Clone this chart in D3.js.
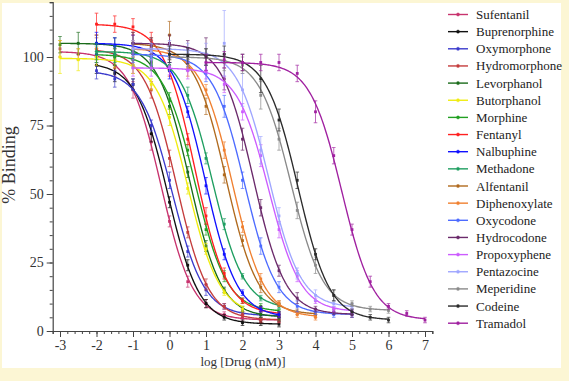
<!DOCTYPE html>
<html><head><meta charset="utf-8">
<script src="https://cdn.jsdelivr.net/npm/d3@7"></script>
<style>html,body{margin:0;padding:0;background:#fcf6d4;}svg{display:block;}</style>
</head><body>
<svg id="chart" width="569" height="381"></svg>
<script>
// ---- data ----
const drugs = ["Sufentanil","Buprenorphine","Oxymorphone","Hydromorphone","Levorphanol","Butorphanol","Morphine","Fentanyl","Nalbuphine","Methadone","Alfentanil","Diphenoxylate","Oxycodone","Hydrocodone","Propoxyphene","Pentazocine","Meperidine","Codeine","Tramadol"];
const colors = ["#c8336e","#111111","#3a3acc","#c43c3c","#1a6b1a","#f0ec10","#22a022","#ff2020","#1010ff","#1e9e60","#b06a1e","#f08030","#4d6bff","#6b2a6b","#cc5cff","#9fa6ff","#8a8a8a","#2b2b2b","#a020a0"];
// fitted curve parameters
const tops    = [102, 98, 95, 103, 105, 99.5, 101, 112, 105, 102, 105, 103, 101, 105, 96, 103, 100, 101, 98];
const bottoms = [4, 2.5, 5.5, 4, 5, 6, 7, 6, 5, 8, 6, 5, 6, 6, 7, 8.5, 7.5, 4, 4];
const logIC50 = [-0.23, -0.05, 0.08, 0.19, 0.55, 0.5, 0.7, 0.7, 0.98, 1.17, 1.55, 1.72, 2.06, 2.3, 2.72, 2.72, 3.33, 3.52, 4.72];
const hills   = [1, 1, 1, 1, 1, 1, 1, 1, 1, 1, 1, 1, 1, 1, 1, 1, 1, 1, 1];
// dose schedules (log nM)
const dosesM3to3 = [-3,-2.5,-2,-1.5,-1,-0.5,0,0.5,1,1.5,2,2.5,3];
const dosesM2to3 = [-2,-1.5,-1,-0.5,0,0.5,1,1.5,2,2.5,3];
const dosesM3to2 = [-3,-2.5,-2,-1.5,-1,-0.5,0,0.5,1,1.5,2];
const dosesM1to4 = [-1,-0.5,0,0.5,1,1.5,2,2.5,3,3.5,4];
const dosesM1to5 = [-1,-0.5,0,0.5,1,1.5,2,2.5,3,3.5,4,4.5,5];
const doses0to6  = [0,0.5,1,1.5,2,2.5,3,3.5,4,4.5,5,5.5,6];
const doses1to7  = [1,1.5,2,2.5,3,3.5,4,4.5,5,5.5,6,6.5,7];
// measured % binding
const sufentanil    = [103,101,100,96,88,69,40,18,10,6,5,4,4];
const buprenorphine = [97,94,90,72,47,24,10,5,3,3,2.5];
const oxymorphone   = [95,92,90,75,55,29,15,9,7,6,5.5];
const hydromorphone = [103,100,97,88,63,36,17,9,6,4,4];
const levorphanol   = [104.5,105,105,104,102,98,82,58,31,15,8,6,5];
const butorphanol   = [100,99,100,99,97,90,78,52,30,14,8];
const morphine      = [101,100,99,97,84,66,37,20,11,9,7];
const fentanyl      = [112,112,111,106,96,70,42,21,11,8,6];
const nalbuphine    = [105,104,105,103,95,80,53,28,14,8,6];
const methadone     = [102,101,102,99,97,86,63,39,20,12,9];
const alfentanil    = [105,104,108,98,82,57,33,16,10,7,6];
const diphenoxylate = [103,103,101,96,88,66,38,19,10,6,5];
const oxycodone     = [101,100,101,98,94,82,55,31,16,9,7,6,6];
const hydrocodone   = [105,104,105,103,101,92,70,45,22,12,8,7,6];
const propoxyphene  = [96,96,96.5,95,95,90,80,64,37,20,11,8,7];
const pentazocine   = [103,102,103,102,101,105,88,66,42,21,13,10,9];
const meperidine    = [100,99.5,100,98,97,86,70,44,24,13,10,8,7.5];
const codeine       = [101,100.5,100,101,98,92,77,55,28,13,7,5,4];
const tramadol      = [98,99,98,98,98,94,80,64,37,18,9,6.4,4];
// SEM
const errSufentanil    = [3,2,3,3,3,3,2,2,1.5,1,1,1,1];
const errBuprenorphine = [3,3,2,3,2,2,1.5,1,1,1,1];
const errOxymorphone   = [3,3,2,2,3,2,2,1,1,1,1];
const errHydromorphone = [4,3,3,3,3,2,2,1,1,1,1];
const errLevorphanol   = [3,4,3,3,3,2,3,2,2,1,1,1,1];
const errButorphanol   = [6,4,3,3,3,2,3,2,2,1,1];
const errMorphine      = [3,3,3,2,3,2,2,2,1,1,1];
const errFentanyl      = [4,3,3,3,3,2,3,2,1,1,1];
const errNalbuphine    = [4,3,3,3,3,2,3,2,1,1,1];
const errMethadone     = [3,3,3,3,2,3,2,2,1,1,1];
const errAlfentanil    = [4,3,5,3,3,3,2,2,1,1,1];
const errDiphenoxylate = [3,3,3,3,2,3,2,2,1,1,1];
const errOxycodone     = [3,3,3,3,3,4,3,3,2,2,1,1,1];
const errHydrocodone   = [4,3,3,3,6,4,4,3,2,2,1,1,1];
const errPropoxyphene  = [3,3,3,3,3,3,3,4,3,2,1,1,1];
const errPentazocine   = [3,3,3,3,4,12,6,5,3,2,2,1,1];
const errMeperidine    = [3,3,3,3,3,5,4,3,3,2,1,1,1];
const errCodeine       = [3,3,3,3,3,5,4,3,2,2,1,1,1];
const errTramadol      = [3,3,3,3,3,3,4,3,2,2,1,1,1];

const xTickLabels = ["-3","-2","-1","0","1","2","3","4","5","6","7"];
const yTickLabels = ["0","25","50","75","100"];

const doseSets = [dosesM3to3,dosesM2to3,dosesM2to3,dosesM2to3,dosesM3to3,dosesM3to2,dosesM2to3,dosesM2to3,dosesM2to3,dosesM2to3,dosesM1to4,dosesM1to4,dosesM1to5,dosesM1to5,dosesM1to5,dosesM1to5,doses0to6,doses0to6,doses1to7];
const valueSets = [sufentanil,buprenorphine,oxymorphone,hydromorphone,levorphanol,butorphanol,morphine,fentanyl,nalbuphine,methadone,alfentanil,diphenoxylate,oxycodone,hydrocodone,propoxyphene,pentazocine,meperidine,codeine,tramadol];
const errSets = [errSufentanil,errBuprenorphine,errOxymorphone,errHydromorphone,errLevorphanol,errButorphanol,errMorphine,errFentanyl,errNalbuphine,errMethadone,errAlfentanil,errDiphenoxylate,errOxycodone,errHydrocodone,errPropoxyphene,errPentazocine,errMeperidine,errCodeine,errTramadol];

// ---- drawing ----
const svg = d3.select("#chart");
const font = "'Liberation Serif','Times New Roman',serif";
svg.append("rect").attr("x",0).attr("y",0).attr("width",569).attr("height",381).attr("fill","#fcf6d4");
svg.append("rect").attr("x",2).attr("y",3).attr("width",559).attr("height",365).attr("fill","#ffffff");

const x = d3.scaleLinear().domain([-3.2, 7.2]).range([52.7, 432.3]);
const y = d3.scaleLinear().domain([0, 120]).range([331, 2.2]);

const axisColor = "#444";
// y axis
const gy = svg.append("g").attr("transform",`translate(${x(-3.2)},0)`);
gy.call(d3.axisLeft(y).tickValues(d3.range(0,121,5)).tickSize(3).tickFormat(""));
const gyMaj = svg.append("g").attr("transform",`translate(${x(-3.2)},0)`)
  .call(d3.axisLeft(y).tickValues(yTickLabels.map(Number)).tickSize(6).tickPadding(3).tickFormat((d,i)=>yTickLabels[i]));
// x axis
const gx = svg.append("g").attr("transform",`translate(0,${y(0)})`);
gx.call(d3.axisBottom(x).tickValues(d3.range(-16,37).map(v=>v/5)).tickSize(3).tickFormat(""));
const gxMaj = svg.append("g").attr("transform",`translate(0,${y(0)})`)
  .call(d3.axisBottom(x).tickValues(xTickLabels.map(Number)).tickSize(6).tickPadding(3).tickFormat((d,i)=>xTickLabels[i]));
[gy,gyMaj,gx,gxMaj].forEach(g=>{
  g.selectAll("path").attr("stroke",axisColor).attr("stroke-width",1.2);
  g.selectAll("line").attr("stroke",axisColor);
  g.selectAll("text").attr("font-family",font).attr("font-size",14).attr("fill","#333");
});
gyMaj.select("path").remove(); gxMaj.select("path").remove();

// titles
svg.append("text").attr("transform","translate(15,165) rotate(-90)").attr("text-anchor","middle")
  .attr("font-family",font).attr("font-size",18).attr("fill","#333").text("% Binding");
svg.append("text").attr("x",243).attr("y",366).attr("text-anchor","middle")
  .attr("font-family",font).attr("font-size",13).attr("fill","#333").text("log [Drug (nM)]");

// curves
const plot = svg.append("g");
const line = d3.line().x(d=>x(d[0])).y(d=>y(d[1])).curve(d3.curveLinear);
drugs.forEach((name,i)=>{
  const ds = doseSets[i], lo = ds[0], hi = ds[ds.length-1];
  const pts = d3.range(0,201).map(k=>{
    const xv = lo + (hi-lo)*k/200;
    const yv = bottoms[i] + (tops[i]-bottoms[i])/(1+Math.pow(10,(xv-logIC50[i])*hills[i]));
    return [xv,yv];
  });
  const g = plot.append("g");
  g.append("path").attr("d",line(pts)).attr("fill","none").attr("stroke",colors[i]).attr("stroke-width",1.35);
  ds.forEach((dv,j)=>{
    const v = valueSets[i][j], e = errSets[i][j];
    const eb = g.append("g").attr("stroke",colors[i]).attr("stroke-width",0.8).attr("opacity",0.85);
    eb.append("line").attr("x1",x(dv)).attr("x2",x(dv)).attr("y1",y(v-e)).attr("y2",y(v+e));
    [v-e,v+e].forEach(w=>eb.append("line").attr("x1",x(dv)-1.8).attr("x2",x(dv)+1.8).attr("y1",y(w)).attr("y2",y(w)));
    g.append("rect").attr("x",x(dv)-1.4).attr("y",y(v)-1.4).attr("width",2.8).attr("height",2.8).attr("fill",colors[i]);
  });
});

// legend
const leg = svg.append("g");
drugs.forEach((name,i)=>{
  const cy = 14.5 + i*17.15;
  leg.append("line").attr("x1",448).attr("x2",468).attr("y1",cy).attr("y2",cy).attr("stroke",colors[i]).attr("stroke-width",1.4);
  leg.append("line").attr("x1",458).attr("x2",458).attr("y1",cy-2).attr("y2",cy+2).attr("stroke",colors[i]).attr("stroke-width",0.8);
  leg.append("rect").attr("x",456.6).attr("y",cy-1.4).attr("width",2.8).attr("height",2.8).attr("fill",colors[i]);
  leg.append("text").attr("x",476).attr("y",cy+4.5).attr("font-family",font).attr("font-size",13).attr("fill","#222").text(name);
});
</script>
</body></html>
